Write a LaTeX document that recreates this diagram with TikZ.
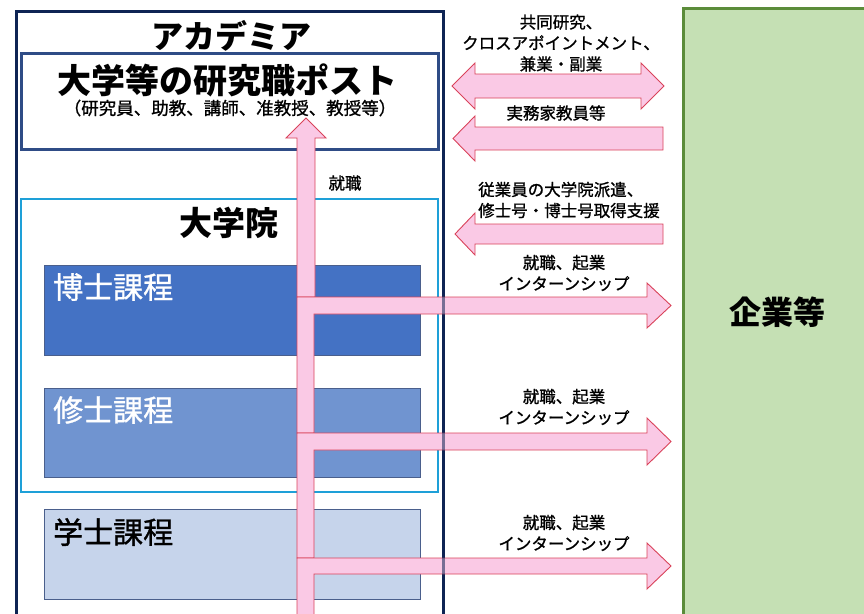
\documentclass[tikz,border=0pt]{standalone}
\usepackage{fontspec}
\newfontfamily\jp{Noto Sans CJK JP}
\newfontfamily\jpm{Noto Sans CJK JP}[FakeBold=1.1]
\definecolor{navy}{HTML}{0E2454}
\definecolor{postblue}{HTML}{2F4C86}
\definecolor{cyanb}{HTML}{1EA0D8}
\definecolor{docfill}{HTML}{4472C4}
\definecolor{masfill}{HTML}{7094D0}
\definecolor{bacfill}{HTML}{C6D4EB}
\definecolor{coursebd}{HTML}{4A5F8C}
\definecolor{pinkf}{HTML}{FAC9E5}
\definecolor{pinkb}{HTML}{D9435A}
\definecolor{greenf}{HTML}{C5E0B4}
\definecolor{greenb}{HTML}{5B8C3A}
\tikzset{
  course/.style={draw=coursebd, line width=1pt},
  parrow/.style={fill=pinkf, draw=pinkb, line width=0.9pt, line join=miter},
  lbl/.style={font=\jpm\fontsize{16.5}{21}\selectfont, align=center, inner sep=0pt},
  title/.style={font=\jp\bfseries\fontsize{32}{36}\selectfont, inner sep=0pt},
  ctitle/.style={font=\jpm\fontsize{30}{32}\selectfont, inner sep=0pt, anchor=west},
}
\begin{document}
\begin{tikzpicture}[x=1pt,y=-1pt]
\useasboundingbox (0,0) rectangle (864,613);
\clip (0,0) rectangle (864,613);
% company box
\draw[fill=greenf, draw=greenb, line width=3pt] (683,8) rectangle (880,640);
\node[title] (company) at (777,312) {企業等};
% academia box
\draw[draw=navy, line width=3pt] (16,11) rectangle (443,640);
\node[title] (academia) at (231,36) {アカデミア};
% research post box
\draw[draw=postblue, line width=3pt] (21,53) rectangle (438,149);
\node[title, font=\jp\bfseries\fontsize{34}{36}\selectfont] (post) at (227,80) {大学等の研究職ポスト};
\node[lbl, font=\jpm\fontsize{17.5}{21}\selectfont] (postsub) at (230,108) {（研究員、助教、講師、准教授、教授等）};
% graduate school box
\draw[draw=cyanb, line width=2.5pt] (21,199) rectangle (438,492);
\node[title, font=\jp\bfseries\fontsize{33}{36}\selectfont] (grad) at (229,223) {大学院};
% course boxes
\draw[course, fill=docfill] (44,265) rectangle (420,355);
\node[ctitle, text=white] (doc) at (53,287) {博士課程};
\draw[course, fill=masfill] (44,388) rectangle (420,477);
\node[ctitle, text=white] (mas) at (53,410) {修士課程};
\draw[course, fill=bacfill] (44,509) rectangle (420,599);
\node[ctitle, text=black] (bac) at (53,532) {学士課程};
% pink arrows from courses
\draw[parrow] (297,297) -- (297,138) -- (286,138) -- (306,118) -- (326,138) -- (315,138) -- (315,297) -- cycle;
\draw[parrow] (297,433) -- (297,297) -- (647,297) -- (647,283) -- (671,305.5) -- (647,328) -- (647,314) -- (314,314) -- (314,433) -- cycle;
\draw[parrow] (297,558) -- (297,433) -- (647,433) -- (647,418) -- (671,441.5) -- (647,465) -- (647,450) -- (314,450) -- (314,558) -- cycle;
\draw[parrow] (297,640) -- (297,558) -- (647,558) -- (647,543) -- (671,566) -- (647,589) -- (647,574) -- (314,574) -- (314,640) -- cycle;
% academia border shows through
\draw[draw=navy, draw opacity=0.55, line width=3pt] (443,290) -- (443,600);
% top arrows
\draw[parrow] (452,86) -- (475,63) -- (475,74) -- (641,74) -- (641,63) -- (664,86) -- (641,109) -- (641,98) -- (475,98) -- (475,109) -- cycle;
\draw[parrow] (453,138.5) -- (475,116) -- (475,127) -- (663,127) -- (663,150) -- (475,150) -- (475,161) -- cycle;
\draw[parrow] (455,234) -- (475,213) -- (475,224) -- (663,224) -- (663,244) -- (475,244) -- (475,255) -- cycle;
% labels
\node[lbl] (l1) at (561,43) {共同研究、\\クロスアポイントメント、\\兼業・副業};
\node[lbl] (l2) at (556,113) {実務家教員等};
\node[lbl] (l3) at (345,183) {就職};
\node[lbl, align=left, anchor=west] (l4) at (478,200) {従業員の大学院派遣、\\修士号・博士号取得支援};
\node[lbl] (l5) at (564,273) {就職、起業\\インターンシップ};
\node[lbl] (l6) at (564,407) {就職、起業\\インターンシップ};
\node[lbl] (l7) at (564,533) {就職、起業\\インターンシップ};
\end{tikzpicture}
\end{document}
